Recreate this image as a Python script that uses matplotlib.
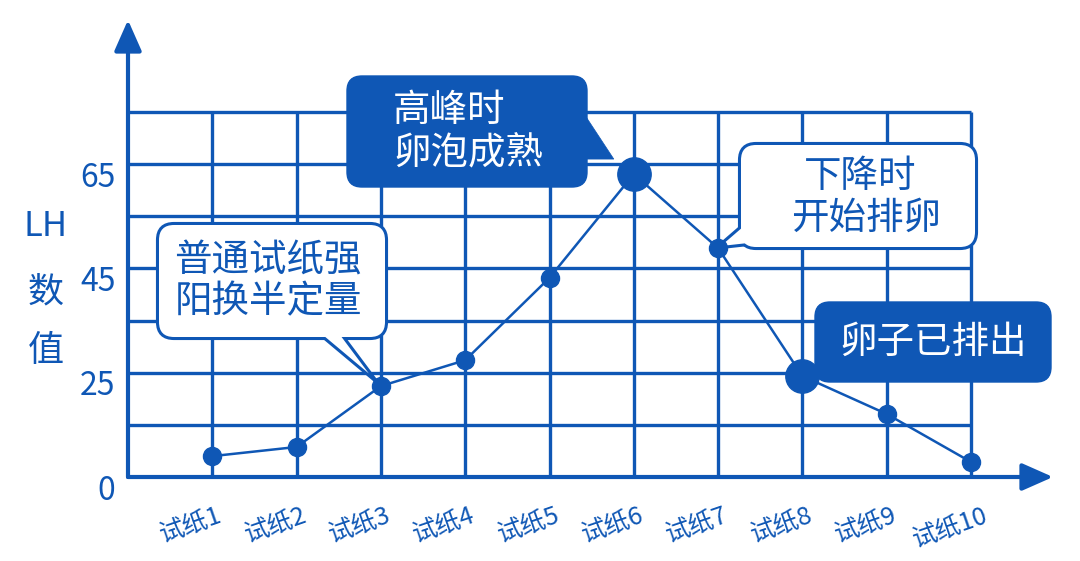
import matplotlib
matplotlib.use('Agg')
import matplotlib.pyplot as plt
import numpy as np
from matplotlib.patches import FancyBboxPatch, Polygon
from matplotlib.transforms import Affine2D, ScaledTranslation

plt.rcParams['font.family'] = ['Noto Sans CJK SC', 'DejaVu Sans']

# data
papers = ['试纸1', '试纸2', '试纸3', '试纸4', '试纸5',
          '试纸6', '试纸7', '试纸8', '试纸9', '试纸10']
lh_values = [5.0, 7.2, 21.8, 27.4, 43.2, 63.1, 48.9, 24.2, 15.1, 3.6]
grid_levels = [12.5, 25, 35, 45, 55, 65, 75]
y_ticks = [0, 25, 45, 65]
y_tick_labels = ['0', '25', '45', '65']
big_points = [5, 7]  # 试纸6 and 试纸8 get the big dots

BLUE = '#0F57B5'
W, H = 1080, 561


# the drawing's axis is not linear: 0-25 spans two rows, then 10 per row
def fwd(v):
    return np.interp(np.asarray(v, dtype=float), [0, 25, 200], [0, 2, 19.5])


def inv(u):
    return np.interp(np.asarray(u, dtype=float), [0, 2, 19.5], [0, 25, 200])


fig = plt.figure(figsize=(W / 100, H / 100), dpi=100)
ax = fig.add_axes([128 / W, 1 - 477 / H, 925 / W, 457 / H])
ax.set_yscale('function', functions=(fwd, inv))
ax.set_xlim(0, 925 / 84.3)
ax.set_ylim(0, inv(457 / 52.14))
for s in ax.spines.values():
    s.set_visible(False)

x = np.arange(1, len(papers) + 1)
y = np.array(lh_values)

# grid
ax.vlines(x, 0, grid_levels[-1], color=BLUE, lw=2.4, zorder=1)
ax.hlines(grid_levels, 0, x[-1], color=BLUE, lw=2.4, zorder=1)

# axis arrows
arrow = dict(arrowstyle='-|>,head_length=0.95,head_width=0.42', mutation_scale=20,
             lw=3, color=BLUE, shrinkA=0, shrinkB=0)
ax.annotate('', xy=(0, 1), xytext=(0, 0), xycoords='axes fraction',
            arrowprops=arrow, annotation_clip=False)
ax.annotate('', xy=(1, 0), xytext=(0, 0), xycoords='axes fraction',
            arrowprops=arrow, annotation_clip=False)

# the curve
ax.plot(x, y, color=BLUE, lw=1.8, marker='o', ms=13, zorder=6, clip_on=False)
ax.plot(x[big_points], y[big_points], 'o', ms=24, color=BLUE, zorder=6)

# ticks
ax.set_xticks(x)
ax.set_xticklabels(papers, rotation=19, fontsize=18, color=BLUE)
ax.tick_params(axis='x', length=0, pad=19)
ax.set_yticks(y_ticks)
ax.set_yticklabels(y_tick_labels, fontsize=23, color=BLUE)
ax.tick_params(axis='y', length=0, pad=9)
for lbl in ax.get_xticklabels():
    lbl.set_transform(lbl.get_transform() + ScaledTranslation(-0.21, 0, fig.dpi_scale_trans))
for lbl in ax.get_yticklabels():
    lbl.set_transform(lbl.get_transform() + ScaledTranslation(0, -0.10, fig.dpi_scale_trans))

# stacked y label
for txt, ypix, fs in [('LH', 227, 25), ('数', 292, 26), ('值', 351, 26)]:
    fig.text(46 / W, 1 - ypix / H, txt, fontsize=fs, color=BLUE, ha='center', va='center')

# pixel space (top-left origin) for the speech bubbles
T = Affine2D().scale(1 / W, -1 / H).translate(0, 1) + fig.transFigure


def point_px(i):
    d = ax.transData.transform((x[i], y[i]))
    return d[0], H - d[1]


def bubble(x0, y0, x1, y1, tail, face, edge, lw=2.2):
    ax.add_patch(FancyBboxPatch((x0, y0), x1 - x0, y1 - y0,
                                boxstyle='round,pad=0,rounding_size=15', transform=T,
                                fc=face, ec=edge, lw=lw * 2, clip_on=False, zorder=4))
    ax.add_patch(Polygon(tail, closed=True, transform=T, fc=face, ec=edge, lw=lw,
                         joinstyle='miter', clip_on=False, zorder=4))
    ax.add_patch(FancyBboxPatch((x0, y0), x1 - x0, y1 - y0,
                                boxstyle='round,pad=0,rounding_size=15', transform=T,
                                fc=face, ec='none', clip_on=False, zorder=4))


def bubble_text(xp, yp, s, color, ha='center'):
    ax.text(xp, yp, s, transform=T, fontsize=27, color=color, ha=ha, va='center',
            zorder=5, clip_on=False)


# 普通试纸强阳换半定量
px3, py3 = point_px(2)
bubble(159, 225, 385, 337, [(311, 327), (336, 327), (px3 - 3, py3 - 3)], 'white', BLUE)
bubble_text(268, 261, '普通试纸强', BLUE)
bubble_text(268, 302, '阳换半定量', BLUE)

# 高峰时 卵泡成熟
px6, py6 = point_px(5)
bubble(347, 76, 587, 187, [(575, 100), (px6 - 20, py6 - 15), (575, py6 - 15)], BLUE, BLUE, lw=0.5)
bubble_text(393, 111, '高峰时', 'white', ha='left')
bubble_text(393, 153, '卵泡成熟', 'white', ha='left')

# 下降时 开始排卵
px7, py7 = point_px(6)
bubble(741, 145, 975, 247, [(751, 218), (px7 - 2, py7), (762, 243)], 'white', BLUE)
bubble_text(860, 176, '下降时', BLUE)
bubble_text(866, 218, '开始排卵', BLUE)

# 卵子已排出
px8, py8 = point_px(7)
bubble(815, 302, 1051, 382, [(825, 345), (px8 + 12, py8 - 8), (825, 376)], BLUE, BLUE, lw=0.5)
bubble_text(933, 342, '卵子已排出', 'white')

fig.savefig('out.png', dpi=100)
print('saved out.png')
